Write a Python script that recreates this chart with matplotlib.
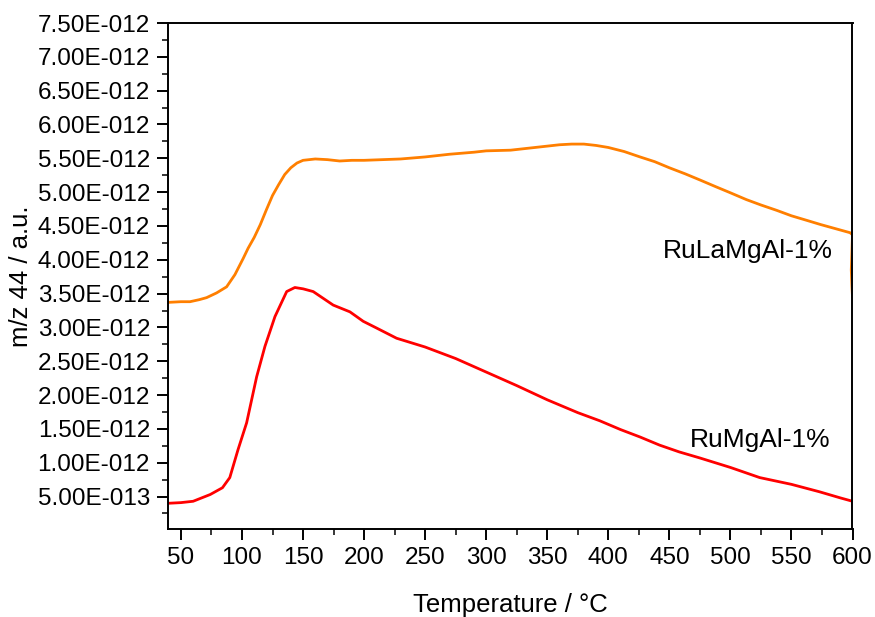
import numpy as np
import matplotlib.pyplot as plt
from matplotlib.ticker import MultipleLocator, FuncFormatter

# RuLaMgAl-1% (orange)
t_la = [39.4, 50, 57.4, 65, 71, 79.2, 87.4, 94.2, 101, 105, 110, 115, 120, 125, 130, 135, 140,
        145, 150, 160, 170, 180, 190, 200, 215, 230, 250, 270, 290, 300, 320, 340, 350,
        360, 370, 380, 390, 400, 413, 426, 438, 450, 463, 475, 488, 500, 513, 525, 538,
        550, 563, 574, 586, 598, 600, 599.5, 599, 599.5, 600]
v_la = [3.37, 3.38, 3.38, 3.41, 3.44, 3.51, 3.60, 3.78, 4.02, 4.17, 4.33, 4.52, 4.74, 4.95, 5.11,
        5.26, 5.36, 5.43, 5.47, 5.49, 5.48, 5.46, 5.47, 5.47, 5.48, 5.49, 5.52, 5.56, 5.59,
        5.61, 5.62, 5.66, 5.68, 5.70, 5.71, 5.71, 5.69, 5.66, 5.60, 5.52, 5.45, 5.36, 5.27,
        5.18, 5.08, 4.99, 4.89, 4.81, 4.73, 4.65, 4.58, 4.52, 4.46, 4.40, 4.37, 4.10, 3.85,
        3.62, 3.45]

# RuMgAl-1% (red)
t_mg = [39.4, 50, 60, 74, 84, 90, 96.7, 103.8, 112, 118.8, 127, 136.6, 143.3, 150.1, 158.3,
        166.5, 174.7, 188.4, 199.3, 210.3, 226.6, 250, 275, 300, 325, 350, 375, 393, 410,
        426, 442, 458, 475, 500, 524, 550, 573, 590, 600, 600]
v_mg = [0.40, 0.41, 0.43, 0.53, 0.63, 0.78, 1.19, 1.59, 2.27, 2.72, 3.16, 3.53, 3.59, 3.57,
        3.53, 3.43, 3.33, 3.23, 3.09, 2.99, 2.84, 2.71, 2.54, 2.34, 2.14, 1.93, 1.74, 1.62,
        1.49, 1.38, 1.26, 1.16, 1.07, 0.93, 0.78, 0.68, 0.57, 0.48, 0.43, 0.33]

plt.rcParams['font.family'] = ['Liberation Sans', 'DejaVu Sans']

fig = plt.figure(figsize=(8.75, 6.17), dpi=100)
ax = fig.add_axes([168 / 875, 1 - 529 / 617, (852.5 - 168) / 875, (529 - 23) / 617])

ax.plot(t_la, np.array(v_la) * 1e-12, color='#FF7F00', lw=2)
ax.plot(t_mg, np.array(v_mg) * 1e-12, color='#FF0000', lw=2)

ax.text(514, 4.13e-12, 'RuLaMgAl-1%', fontsize=19, ha='center', va='center')
ax.text(524, 1.34e-12, 'RuMgAl-1%', fontsize=19, ha='center', va='center')

ax.set_xlim(39.4, 600)
ax.set_ylim(0.02e-12, 7.5e-12)
ax.xaxis.set_major_locator(MultipleLocator(50))
ax.xaxis.set_minor_locator(MultipleLocator(25))
ax.yaxis.set_major_locator(MultipleLocator(0.5e-12))
ax.yaxis.set_minor_locator(MultipleLocator(0.25e-12))
ax.yaxis.set_major_formatter(FuncFormatter(
    lambda v, p: '' if v < 0.4e-12 else ('%.2E' % v).replace('E-', 'E-0')))
ax.yaxis.get_offset_text().set_visible(False)

ax.tick_params(which='major', direction='out', length=8, width=1.4, labelsize=17.5, pad=5)
ax.tick_params(which='minor', direction='out', length=4, width=1.1)
ax.tick_params(top=False, right=False)
for s in ax.spines.values():
    s.set_linewidth(1.4)

ax.set_xlabel('Temperature / °C', fontsize=18.5, labelpad=17)
ax.set_ylabel('m/z 44 / a.u.', fontsize=18.5, labelpad=3)

fig.savefig('out.png', dpi=100)
